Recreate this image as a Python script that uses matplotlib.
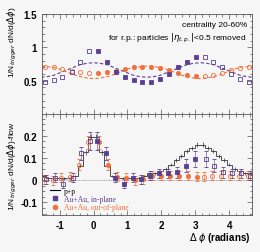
import numpy as np
import matplotlib
matplotlib.use("Agg")
import matplotlib.pyplot as plt
from matplotlib.lines import Line2D
from matplotlib.ticker import MultipleLocator, FixedLocator, FixedFormatter

# ---------------- data ----------------
# bin centres on [0, pi] (Au+Au), reflected points drawn open
phi_bins = [0.13, 0.39, 0.65, 0.92, 1.18, 1.44, 1.70, 1.96, 2.23, 2.49, 2.75, 3.01]

top_in = [0.94, 0.78, 0.63, 0.56, 0.51, 0.48, 0.48, 0.52, 0.60, 0.70, 0.78, 0.86]
top_out = [0.62, 0.63, 0.65, 0.68, 0.70, 0.71, 0.71, 0.69, 0.66, 0.62, 0.59, 0.57]

# flow-modulated background (dashed), sampled on [0, pi] at steps of pi/16
bg_phi = [0.0, 0.196, 0.393, 0.589, 0.785, 0.982, 1.178, 1.374, 1.571,
          1.767, 1.963, 2.160, 2.356, 2.553, 2.749, 2.945, 3.142]
bg_in = [0.77, 0.76, 0.74, 0.70, 0.66, 0.62, 0.58, 0.56, 0.55,
         0.56, 0.58, 0.62, 0.66, 0.70, 0.74, 0.76, 0.77]
bg_out = [0.53, 0.54, 0.56, 0.59, 0.63, 0.67, 0.70, 0.71, 0.72,
          0.71, 0.70, 0.67, 0.63, 0.59, 0.56, 0.54, 0.53]

# flow subtracted
sub_in = [0.175, 0.12, 0.01, -0.015, 0.01, 0.005, 0.02, 0.03, 0.03, 0.035, 0.065, 0.095]
sub_in_err = [0.04, 0.03, 0.02, 0.02, 0.02, 0.02, 0.02, 0.02, 0.02, 0.025, 0.03, 0.035]
sub_out = [0.17, 0.07, 0.015, 0.01, 0.0, 0.005, 0.02, 0.02, 0.02, 0.02, 0.02, 0.015]
sub_out_err = [0.03, 0.025, 0.02, 0.02, 0.02, 0.02, 0.02, 0.02, 0.02, 0.02, 0.02, 0.02]

# p+p histogram, bins of width pi/20 on [0, pi]
pp_vals = [0.195, 0.125, 0.065, 0.02, 0.01, 0.01, 0.01, 0.01, 0.01, 0.02,
           0.03, 0.03, 0.04, 0.05, 0.07, 0.09, 0.11, 0.13, 0.145, 0.16]
pp_err = [0.01, 0.01, 0.008, 0.005, 0.005, 0.005, 0.005, 0.005, 0.005, 0.005,
          0.006, 0.006, 0.006, 0.007, 0.008, 0.008, 0.009, 0.01, 0.01, 0.01]

yticks_top = [0.5, 1.0, 1.5]
yticklabels_top = ["0.5", "1", "1.5"]
yticks_bot = [-0.1, 0.0, 0.1, 0.2]
yticklabels_bot = ["-0.1", "0", "0.1", "0.2"]
xticks = [-1, 0, 1, 2, 3, 4]
xticklabels = ["-1", "0", "1", "2", "3", "4"]

PURPLE = "#5a3f92"
ORANGE = "#f2703a"
BG = "#f6f6f6"
XMIN, XMAX = -1.52, 4.67


def mirror(x, y):
    x = np.asarray(x, float)
    y = np.asarray(y, float)
    xm = np.concatenate([-x[::-1], 2 * np.pi - x[::-1]])
    ym = np.concatenate([y[::-1], y[::-1]])
    keep = (xm > XMIN) & (xm < XMAX)
    return xm[keep], ym[keep]


def mirror_curve(x, y):
    x = np.asarray(x, float)
    y = np.asarray(y, float)
    xf = np.concatenate([-x[::-1], x[1:], 2 * np.pi - x[::-1][1:]])
    yf = np.concatenate([y[::-1], y[1:], y[::-1][1:]])
    return xf, yf


plt.rcParams["font.family"] = ["Liberation Sans", "DejaVu Sans"]
fig = plt.figure(figsize=(2.6, 2.53), dpi=100, facecolor=BG)
L, R = 42 / 260, 252 / 260
ax1 = fig.add_axes([L, 1 - 115 / 253, R - L, 100 / 253], facecolor=BG)
ax2 = fig.add_axes([L, 1 - 215.7 / 253, R - L, 100.7 / 253], facecolor=BG)

for ax in (ax1, ax2):
    ax.set_xlim(XMIN, XMAX)
    ax.tick_params(which="both", direction="in", top=True, right=True,
                   width=0.5, colors="#555555", labelcolor="black")
    ax.tick_params(which="major", length=3.5)
    ax.tick_params(which="minor", length=1.8)
    ax.xaxis.set_major_locator(FixedLocator(xticks))
    ax.xaxis.set_minor_locator(MultipleLocator(0.2))
    for s in ax.spines.values():
        s.set_linewidth(0.6)
        s.set_color("#555555")

# ---- top panel ----
ax1.set_ylim(0, 1.5)
ax1.yaxis.set_major_locator(FixedLocator(yticks_top))
ax1.yaxis.set_major_formatter(FixedFormatter(yticklabels_top))
ax1.yaxis.set_minor_locator(MultipleLocator(0.1))
ax1.tick_params(axis="x", labelbottom=False)
for lab in ax1.get_yticklabels():
    lab.set_fontsize(7)
    lab.set_fontweight("bold")

bx, by = mirror_curve(bg_phi, bg_in)
ax1.plot(bx, by, ls=(0, (3, 2)), color=PURPLE, lw=0.8)
bx, by = mirror_curve(bg_phi, bg_out)
ax1.plot(bx, by, ls=(0, (3, 2)), color=ORANGE, lw=0.8)

ax1.plot(phi_bins, top_out, "o", color=ORANGE, ms=3.0, mew=0.6)
mx, my = mirror(phi_bins, top_out)
ax1.plot(mx, my, "o", mfc="none", mec=ORANGE, ms=3.0, mew=0.6)
ax1.plot(phi_bins, top_in, "s", color=PURPLE, ms=3.0, mew=0.6)
mx, my = mirror(phi_bins, top_in)
ax1.plot(mx, my, "s", mfc="none", mec=PURPLE, ms=3.0, mew=0.6)

ax1.text(0.975, 0.90, "centrality 20-60%", transform=ax1.transAxes,
         ha="right", va="center", fontsize=6)
ax1.text(0.975, 0.77, r"for r.p.: particles $|\eta_{t.p.}|$<0.5 removed",
         transform=ax1.transAxes, ha="right", va="center", fontsize=6)

# ---- bottom panel ----
ax2.set_ylim(-0.155, 0.297)
ax2.yaxis.set_major_locator(FixedLocator(yticks_bot))
ax2.yaxis.set_major_formatter(FixedFormatter(yticklabels_bot))
ax2.yaxis.set_minor_locator(MultipleLocator(0.025))
ax2.xaxis.set_major_formatter(FixedFormatter(xticklabels))
for lab in ax2.get_yticklabels() + ax2.get_xticklabels():
    lab.set_fontsize(7)
    lab.set_fontweight("bold")

ax2.axhline(0, color="#888888", lw=0.6, ls=(0, (1, 1)))

# p+p histogram
w = np.pi / 20
pp_c = (np.arange(len(pp_vals)) + 0.5) * w
pp_v = np.asarray(pp_vals)
pp_e = np.asarray(pp_err)
full_c = np.concatenate([-pp_c[::-1], pp_c, 2 * np.pi - pp_c[::-1]])
full_v = np.concatenate([pp_v[::-1], pp_v, pp_v[::-1]])
full_e = np.concatenate([pp_e[::-1], pp_e, pp_e[::-1]])
sel = (full_c > XMIN - w) & (full_c < XMAX + w)
edges = np.concatenate([full_c[sel] - w / 2, [full_c[sel][-1] + w / 2]])
ax2.stairs(full_v[sel], edges, color="#333333", lw=0.6)
ax2.errorbar(full_c[sel], full_v[sel], yerr=full_e[sel], fmt="none",
             ecolor="#333333", elinewidth=0.5, capsize=0)

def err_points(x, y, e, color, marker, filled, shift):
    x = np.asarray(x) + shift
    mfc = color if filled else "none"
    ax2.errorbar(x, y, yerr=e, fmt=marker, color=color, mfc=mfc, mec=color,
                 ms=3.0, mew=0.6, elinewidth=0.4, capsize=1.5, capthick=0.6)

mx, my = mirror(phi_bins, sub_out)
_, me = mirror(phi_bins, sub_out_err)
err_points(phi_bins, sub_out, sub_out_err, ORANGE, "o", True, 0.03)
err_points(mx, my, me, ORANGE, "o", False, -0.03)
mx, my = mirror(phi_bins, sub_in)
_, me = mirror(phi_bins, sub_in_err)
err_points(phi_bins, sub_in, sub_in_err, PURPLE, "s", True, -0.03)
err_points(mx, my, me, PURPLE, "s", False, 0.03)

handles = [Line2D([], [], color="black", lw=0.8),
           Line2D([], [], ls="none", marker="s", color=PURPLE, ms=3),
           Line2D([], [], ls="none", marker="o", color=ORANGE, ms=3)]
leg = ax2.legend(handles, ["p+p", "Au+Au, in-plane", "Au+Au, out-of-plane"],
                 loc="upper left", bbox_to_anchor=(0.04, 0.275), frameon=False,
                 prop={"family": "Liberation Serif", "size": 5.5},
                 handlelength=1.3, handletextpad=0.5, labelspacing=0.02,
                 borderpad=0.0, borderaxespad=0.0)
for t, c in zip(leg.get_texts(), ["black", PURPLE, ORANGE]):
    t.set_color(c)

fig.text(250 / 260, 1 - 238 / 253, r"$\Delta$ $\phi$ (radians)", ha="right",
         va="center", fontsize=7, fontweight="bold")

fig.text(12 / 260, 1 - 42 / 253, r"1/N$_{trigger}$ dN/d($\Delta\phi$)",
         rotation=90, ha="center", va="center", fontsize=6)
fig.text(12 / 260, 1 - 166 / 253, r"1/N$_{trigger}$ dN/d($\Delta\phi$)-flow",
         rotation=90, ha="center", va="center", fontsize=6)

fig.savefig("out.png", dpi=100, facecolor=BG)
